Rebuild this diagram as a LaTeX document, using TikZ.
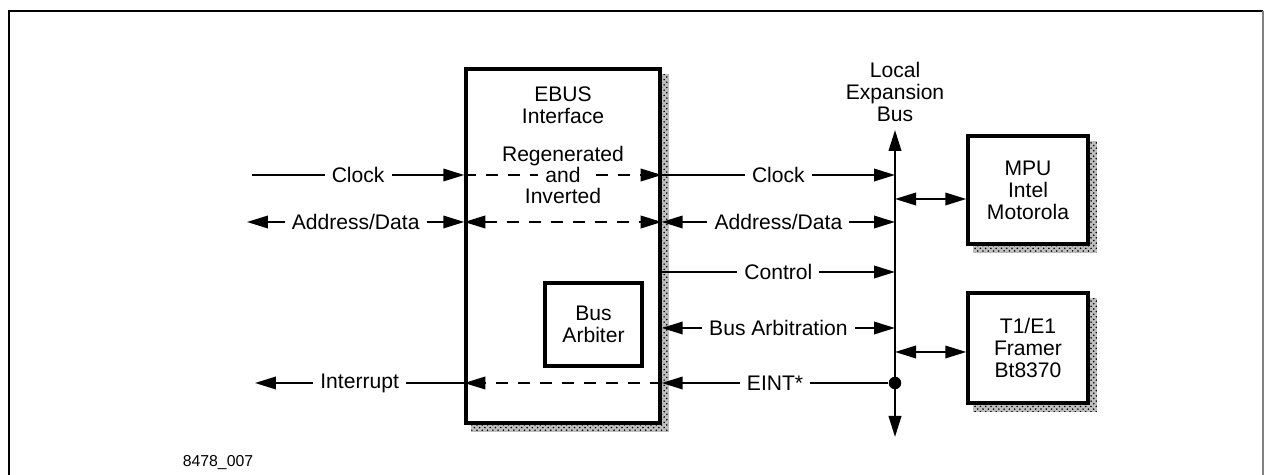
\documentclass[tikz,border=0pt]{standalone}
\usepackage{fontspec}
\setmainfont{Liberation Sans}
\usetikzlibrary{arrows.meta,positioning,calc,patterns,backgrounds}

\begin{document}
\begin{tikzpicture}[x=0.02cm,y=-0.02cm,
    >={Triangle[length=0.42cm,width=0.25cm]},
    font=\fontsize{12}{12.5}\selectfont,
    blk/.style={draw,line width=2pt,fill=white,align=center,inner sep=0pt},
    shade/.style={pattern=crosshatch dots,pattern color=black},
    sig/.style={line width=1.1pt},
    dsh/.style={dash pattern=on 0.24cm off 0.2cm},
    lbl/.style={fill=white,inner xsep=4pt,inner ysep=0pt},
    txt/.style={align=center,inner sep=0pt},
    tap/.style={circle,fill,inner sep=0pt,minimum size=0.25cm}]
    \useasboundingbox (0,0) rectangle (1265,475);
    % frame
    \draw[line width=1.2pt] (9,475) -- (9,11) -- (1263,11);
    \draw[gray,line width=0.8pt] (1263,11) -- (1263,475);

    % blocks
    \node[blk,minimum width=3.88cm,minimum height=7.08cm] (ebus) at (563,246) {};
    \node[blk,minimum width=1.94cm,minimum height=1.66cm] (arb) at (593.5,324.5) {Bus\\Arbiter};
    \node[blk,minimum width=2.4cm,minimum height=2.16cm] (mpu) at (1028,190) {MPU\\Intel\\Motorola};
    \node[blk,minimum width=2.4cm,minimum height=2.2cm] (frm) at (1028,348) {T1/E1\\Framer\\Bt8370};
    \begin{scope}[on background layer]
        \foreach \b in {ebus,arb,mpu,frm}{
            \fill[black!25] ($(\b.south west)+(7,7)$) rectangle ($(\b.north east)+(7,7)$);
            \fill[shade] ($(\b.south west)+(7,7)$) rectangle ($(\b.north east)+(7,7)$);
        }
    \end{scope}

    \node[txt] (ebustxt) at (563,105) {EBUS\\Interface};
    \node[txt] (bustxt) at (895,92) {Local\\Expansion\\Bus};
    \node[txt,font=\fontsize{9}{9}\selectfont] (fig) at (218,463) {8478\_007};

    % bus
    \coordinate (btop) at (895,130);
    \coordinate (bbot) at (895,437);
    \draw[line width=1.3pt,<->] (btop) -- (bbot);

    % rows
    \coordinate (clk) at (252,175);
    \coordinate (ad) at (247,222);
    \coordinate (ctl) at (660,272);
    \coordinate (arbrow) at (660,328);
    \coordinate (irq) at (255,383);

    \draw[sig,->] (clk) -- node[lbl]{Clock} (ebus.west |- clk);
    \draw[sig,<->] (ad) -- node[lbl]{Address/Data} (ebus.west |- ad);
    \draw[sig,<-] (irq) -- node[lbl]{Interrupt} (ebus.west |- irq);

    \draw[sig,dsh,->] (ebus.west |- clk) -- node[lbl] (and) {and} (ebus.east |- clk);
    \node[txt,anchor=base] (regen) at ([yshift=12pt]and.base) {Regenerated};
    \node[txt,anchor=base] (inv) at ([yshift=-12pt]and.base) {Inverted};
    \draw[sig,dsh,<->] (ebus.west |- ad) -- (ebus.east |- ad);
    \draw[sig,dsh,->] (ebus.east |- irq) -- (ebus.west |- irq);

    \draw[sig,->] (ebus.east |- clk) -- node[lbl]{Clock} (btop |- clk);
    \draw[sig,<->] (ebus.east |- ad) -- node[lbl]{Address/Data} (btop |- ad);
    \draw[sig,->] (ebus.east |- ctl) -- node[lbl]{Control} (btop |- ctl);
    \draw[sig,<->] (ebus.east |- arbrow) -- node[lbl]{Bus Arbitration} (btop |- arbrow);
    \node[tap] (tp) at (btop |- irq) {};
    \draw[sig,->] (tp) -- node[lbl]{EINT*} (ebus.east |- irq);

    % links to devices
    \coordinate (mpuin) at (895,199);
    \draw[sig,<->] (mpuin) -- (mpuin -| mpu.west);
    \coordinate (frmin) at (895,352);
    \draw[sig,<->] (frmin) -- (frmin -| frm.west);
\end{tikzpicture}
\end{document}
